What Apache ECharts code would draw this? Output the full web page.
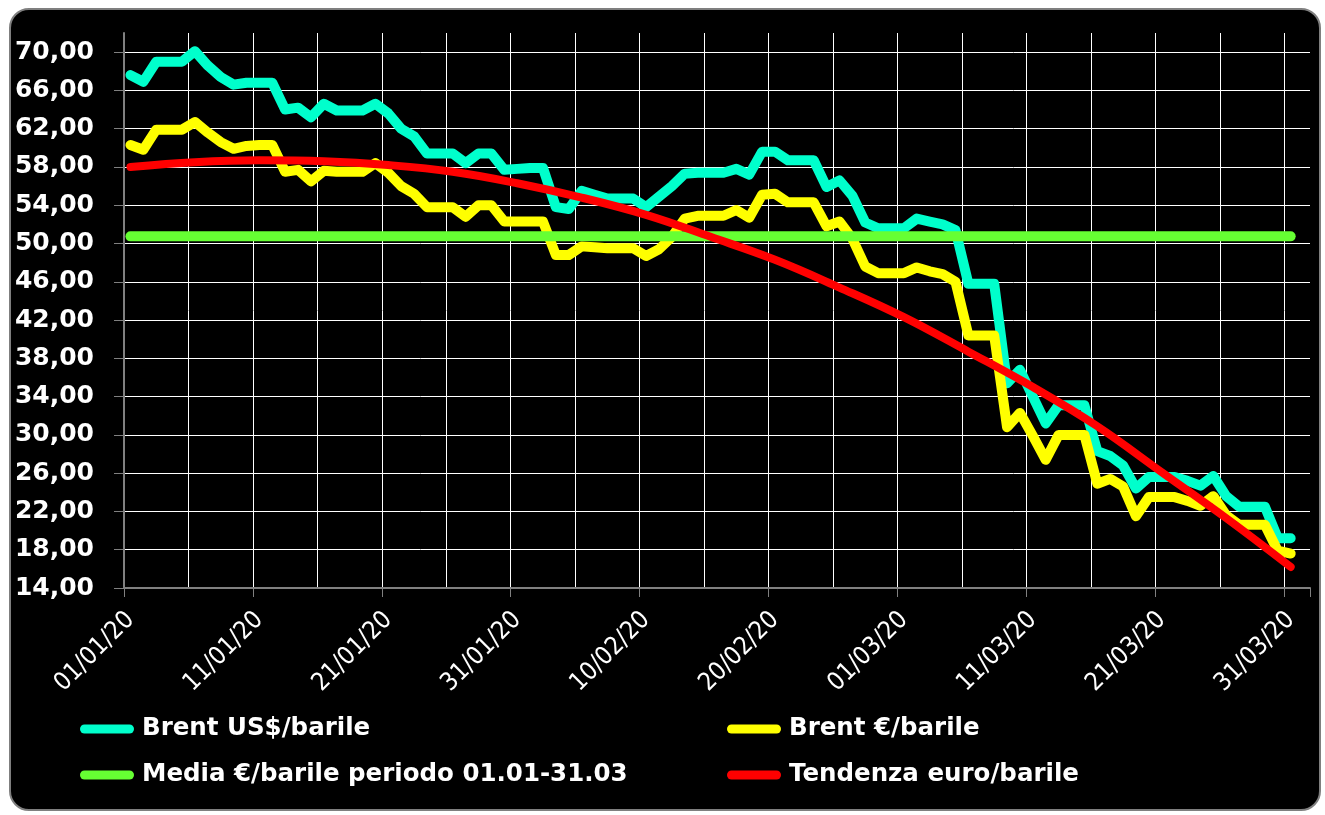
<!DOCTYPE html>
<html><head><meta charset="utf-8">
<script src="https://cdn.jsdelivr.net/npm/echarts@6/dist/echarts.min.js"></script>
<style>
html,body{margin:0;padding:0;background:#fff;width:1325px;height:815px;overflow:hidden}
#box{position:absolute;left:9px;top:8px;width:1312px;height:803px;box-sizing:border-box;border:2px solid #7f7f7f;border-radius:20px;background:#000}
#chart{position:absolute;left:0;top:0;width:1325px;height:815px}
</style></head>
<body><div id="box"></div><div id="chart"></div>
<script>
// Categories: one per day, 01/01/20 .. 01/04/20 (the last one is an empty band at the right)
const startDate = [2020, 0, 1];
const dayCount = 92;
const dates = [];
for (let i = 0; i < dayCount; i++) {
  const d = new Date(Date.UTC(startDate[0], startDate[1], startDate[2] + i));
  const p = n => (n < 10 ? '0' : '') + n;
  dates.push(p(d.getUTCDate()) + '/' + p(d.getUTCMonth() + 1) + '/' + String(d.getUTCFullYear()).slice(2));
}

// Series names
const seriesNames = ['Brent US$/barile', 'Brent €/barile', 'Media €/barile periodo 01.01-31.03', 'Tendenza euro/barile'];

// Brent US$/barile (daily, 01/01 .. 31/03)
const brentUsd = [
  67.6, 66.9, 69.0, 69.0, 69.0, 70.1, 68.6, 67.4, 66.6, 66.8,
  66.8, 66.8, 64.0, 64.2, 63.2, 64.6, 63.9, 63.9, 63.9, 64.6,
  63.6, 62.0, 61.2, 59.4, 59.4, 59.4, 58.4, 59.4, 59.4, 57.7,
  57.8, 57.9, 57.9, 53.8, 53.6, 55.5, 55.1, 54.7, 54.7, 54.7,
  53.8, 54.9, 56.0, 57.3, 57.4, 57.4, 57.4, 57.8, 57.2, 59.6,
  59.6, 58.7, 58.7, 58.7, 55.9, 56.6, 55.0, 52.2, 51.6, 51.6,
  51.6, 52.6, 52.3, 52.0, 51.4, 45.8, 45.8, 45.8, 35.4, 36.8,
  34.0, 31.2, 33.1, 33.1, 33.1, 28.3, 27.8, 26.8, 24.4, 25.6,
  25.6, 25.6, 25.2, 24.7, 25.7, 23.6, 22.5, 22.5, 22.5, 19.2,
  19.2
];

// Brent €/barile (daily, 01/01 .. 31/03)
const brentEur = [
  60.3, 59.8, 61.9, 61.9, 61.9, 62.7, 61.6, 60.6, 59.9, 60.2,
  60.3, 60.3, 57.5, 57.7, 56.5, 57.6, 57.5, 57.5, 57.5, 58.4,
  57.4, 56.0, 55.2, 53.8, 53.8, 53.8, 52.8, 54.0, 54.0, 52.3,
  52.3, 52.3, 52.3, 48.8, 48.8, 49.7, 49.6, 49.5, 49.5, 49.5,
  48.7, 49.4, 50.7, 52.6, 52.9, 52.9, 52.9, 53.5, 52.7, 55.1,
  55.2, 54.3, 54.3, 54.3, 51.8, 52.3, 50.5, 47.6, 46.9, 46.9,
  46.9, 47.5, 47.1, 46.8, 46.0, 40.4, 40.4, 40.4, 30.8, 32.3,
  29.9, 27.4, 30.0, 30.0, 30.0, 24.9, 25.4, 24.6, 21.5, 23.5,
  23.5, 23.5, 23.1, 22.6, 23.6, 21.6, 20.6, 20.6, 20.6, 17.9,
  17.6
];

// Media €/barile over the period (constant level), drawn from first to last day
const mediaEur = 50.75;
const mediaDays = [0, 90];

// Tendenza euro/barile: trend curve read every 5 days
const trendDays = [0, 5, 10, 15, 20, 25, 30, 35, 40, 45, 50, 55, 60, 65, 70, 75, 80, 85, 90];
const trendValues = [58.0, 58.5, 58.7, 58.6, 58.2, 57.5, 56.3, 54.8, 53.0, 50.7, 48.3, 45.4, 42.3, 38.7, 35.0, 30.9, 26.1, 21.3, 16.2];

// Y axis
const yMin = 14, yMax = 72, yStep = 4;

const colors = ['#00FFCC', '#FFFF00', '#66FF33', '#FF0000'];
const capsule = 'path://M5,0H55A5,5,0,0,1,55,10H5A5,5,0,0,1,5,0Z';

const chart = echarts.init(document.getElementById('chart'), null, {renderer: 'canvas'});
const legendText = {color: '#fff', fontFamily: 'DejaVu Sans', fontWeight: 'bold', fontSize: 24.5, lineHeight: 26};

chart.setOption({
  animation: false,
  backgroundColor: 'transparent',
  grid: {left: 124, right: 15, top: 33, bottom: 227, containLabel: false},
  legend: [
    {data: [seriesNames[0], seriesNames[2]], left: 80, top: 716, orient: 'vertical', itemGap: 20,
     itemWidth: 60, itemHeight: 9, icon: capsule, textStyle: legendText, selectedMode: false, padding: 0},
    {data: [seriesNames[1], seriesNames[3]], left: 727, top: 716, orient: 'vertical', itemGap: 20,
     itemWidth: 60, itemHeight: 9, icon: capsule, textStyle: legendText, selectedMode: false, padding: 0}
  ],
  xAxis: {
    type: 'category', data: dates, boundaryGap: true,
    axisLine: {show: true, lineStyle: {color: '#808080', width: 2}},
    axisTick: {show: true, length: 9, interval: (i) => i % 10 === 0 && i <= 90, lineStyle: {color: '#808080', width: 1}},
    splitLine: {show: true, showMaxLine: false, interval: (i) => i % 5 === 0 && i <= 90, lineStyle: {color: '#ffffff', width: 1}},
    axisLabel: {interval: (i) => i % 10 === 0 && i <= 90, rotate: 45, margin: 28, color: '#fff',
      fontFamily: 'DejaVu Sans Condensed', fontSize: 25}
  },
  yAxis: {
    type: 'value', min: yMin, max: yMax, interval: yStep,
    axisLine: {show: true, lineStyle: {color: '#808080', width: 2}},
    axisTick: {show: true, length: 10, lineStyle: {color: '#808080', width: 1}},
    splitLine: {show: true, showMaxLine: false, lineStyle: {color: '#ffffff', width: 1}},
    axisLabel: {showMaxLabel: false, margin: 30, color: '#fff', fontFamily: 'DejaVu Sans', fontWeight: 'bold', fontSize: 25,
      formatter: v => v.toFixed(2).replace('.', ',')}
  },
  series: [
    {name: seriesNames[0], type: 'line', data: brentUsd, showSymbol: false, color: colors[0],
     lineStyle: {color: colors[0], width: 10, cap: 'round', join: 'round'}},
    {name: seriesNames[1], type: 'line', data: brentEur, showSymbol: false, color: colors[1],
     lineStyle: {color: colors[1], width: 10, cap: 'round', join: 'round'}},
    {name: seriesNames[2], type: 'line', data: mediaDays.map(d => [d, mediaEur]), showSymbol: false, color: colors[2],
     lineStyle: {color: colors[2], width: 10, cap: 'round', join: 'round'}},
    {name: seriesNames[3], type: 'line', data: trendDays.map((d, k) => [d, trendValues[k]]), smooth: 0.4, showSymbol: false, color: colors[3],
     lineStyle: {color: colors[3], width: 8, cap: 'round', join: 'round'}}
  ]
});
</script></body></html>
